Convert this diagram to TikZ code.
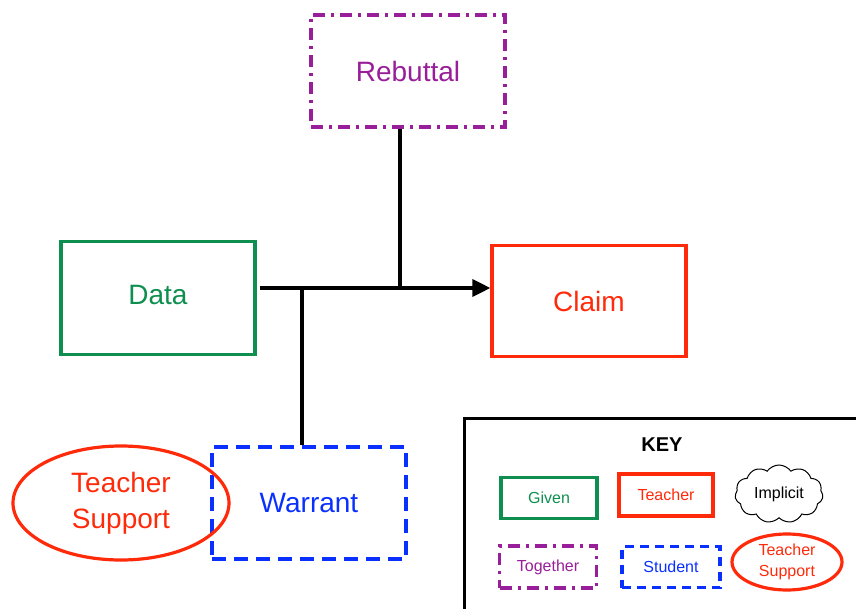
\documentclass[tikz,border=0pt]{standalone}
\usepackage{fontspec}
\setmainfont{Liberation Sans}
\usepackage{tikz}
\usetikzlibrary{positioning,arrows.meta,shapes.geometric,shapes.symbols}
\definecolor{givengreen}{HTML}{0E8F50}
\definecolor{teachred}{HTML}{FF2A0A}
\definecolor{studblue}{HTML}{0A30FF}
\definecolor{togpurple}{HTML}{991E99}

\begin{document}
\begin{tikzpicture}[x=1pt, y=-1pt,
		big/.style={font=\fontsize{28}{36}\selectfont},
		small/.style={font=\fontsize{16}{21}\selectfont},
		given/.style={draw=givengreen, text=givengreen, line width=3.2pt, inner sep=0pt},
		teacher/.style={draw=teachred, text=teachred, line width=3.2pt, inner sep=0pt},
		student/.style={draw=studblue, text=studblue, line width=3.2pt, inner sep=0pt,
				dash pattern=on 14pt off 8pt},
		together/.style={draw=togpurple, text=togpurple, line width=3.2pt, inner sep=0pt,
				dash pattern=on 12pt off 6pt on 3pt off 6pt},
		support/.style={ellipse, draw=teachred, text=teachred, line width=3.2pt,
				inner sep=0pt, align=center},
		flow/.style={black, line width=3.2pt}]
	\useasboundingbox (0,0) rectangle (856,609);

	% Toulmin boxes
	\node[together, big, minimum width=194pt, minimum height=112pt] (rebuttal) at (408,71) {Rebuttal};
	\node[given, big, minimum width=194pt, minimum height=113pt] (data) at (158,298) {\raisebox{6pt}{Data}};
	\node[teacher, big, minimum width=194pt, minimum height=111pt] (claim) at (589,301) {Claim};
	\node[student, big, minimum width=194pt, minimum height=112pt] (warrant) at (309,503) {Warrant};
	\node[support, big, minimum width=216pt, minimum height=114pt] (tsupport) at (121,503) {Teacher\\Support};

	% junctions on the main line
	\coordinate (j1) at (302,288);
	\coordinate (j2) at (400,288);
	\draw[flow, -{Triangle[length=18pt,width=17pt]}] ([xshift=3pt]data.east |- j1) -- (claim.west |- j1);
	\draw[flow] (rebuttal.south -| j2) -- (j2);
	\draw[flow] (j1) -- (warrant.north -| j1);

	% key
	\draw[line width=3pt] (870,418) -- (464,418) -- (464,620);
	\node[font=\fontsize{20}{22}\selectfont\bfseries] (key) at (662,445) {KEY};
	\node[given, small, minimum width=96pt, minimum height=41pt] (kgiven) at (549,498) {Given};
	\node[teacher, small, minimum width=94pt, minimum height=42pt] (kteacher) at (666,495) {Teacher};
	\node[cloud, cloud puffs=11, cloud puff arc=110, aspect=1.6, draw=black, line width=1pt,
		small, minimum width=88pt, minimum height=58pt, inner sep=0pt] (kimplicit) at (779,494) {Implicit};
	\node[together, small, minimum width=97pt, minimum height=42pt] (ktogether) at (548,567) {Together};
	\node[student, small, minimum width=98pt, minimum height=41pt, dash pattern=on 9pt off 6pt] (kstudent) at (671,567) {Student};
	\node[support, small, minimum width=110pt, minimum height=56pt] (ksupport) at (787,562) {Teacher\\Support};
\end{tikzpicture}
\end{document}
